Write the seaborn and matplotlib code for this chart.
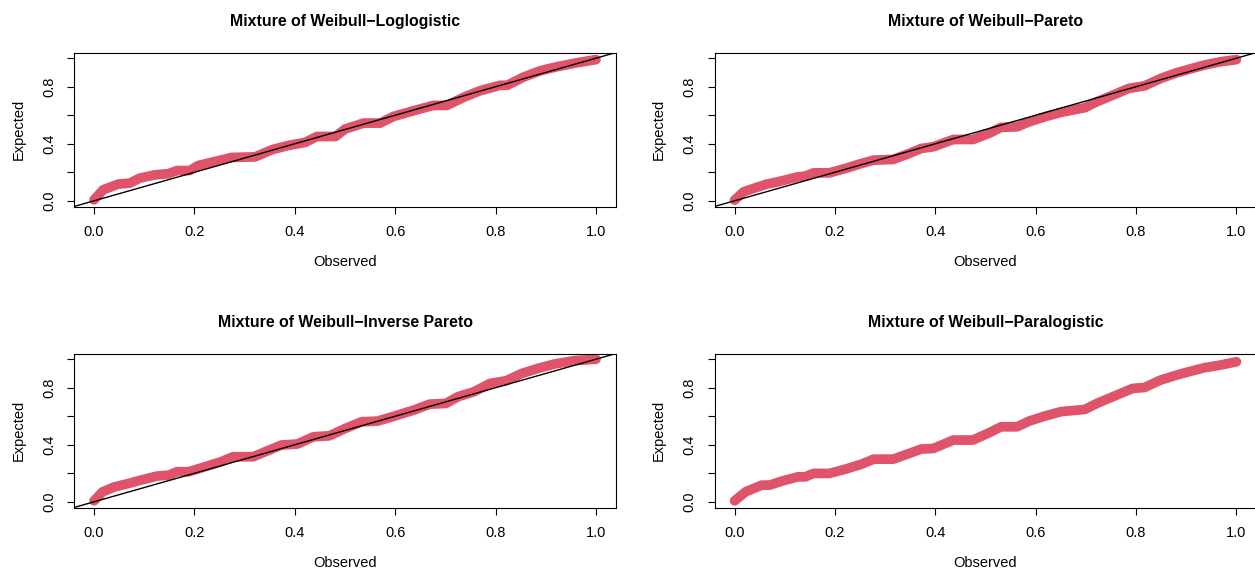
import numpy as np
import pandas as pd
import matplotlib
matplotlib.use("Agg")
import matplotlib.pyplot as plt
import seaborn as sns

# P-P plot vertices (observed CDF, fitted CDF) for each fitted mixture
titles = [
    "Mixture of Weibull\u2212Loglogistic",
    "Mixture of Weibull\u2212Pareto",
    "Mixture of Weibull\u2212Inverse Pareto",
    "Mixture of Weibull\u2212Paralogistic",
]

obs_loglogistic = [0.0, 0.018, 0.048, 0.071, 0.091, 0.121, 0.148, 0.165, 0.19, 0.208, 0.241, 0.274,
                   0.321, 0.354, 0.387, 0.421, 0.444, 0.481, 0.5, 0.537, 0.57, 0.597, 0.637, 0.676,
                   0.703, 0.736, 0.769, 0.809, 0.823, 0.856, 0.889, 0.922, 0.962, 1.0]
exp_loglogistic = [0.007, 0.077, 0.117, 0.124, 0.159, 0.182, 0.19, 0.212, 0.212, 0.248, 0.276, 0.304,
                   0.308, 0.358, 0.388, 0.41, 0.451, 0.451, 0.503, 0.545, 0.545, 0.592, 0.632, 0.669,
                   0.669, 0.725, 0.772, 0.81, 0.81, 0.868, 0.912, 0.94, 0.968, 0.99]

obs_pareto = [0.0, 0.018, 0.038, 0.062, 0.086, 0.126, 0.141, 0.157, 0.189, 0.221, 0.253, 0.277,
              0.316, 0.348, 0.372, 0.396, 0.436, 0.475, 0.507, 0.531, 0.563, 0.587, 0.618, 0.65,
              0.698, 0.722, 0.762, 0.785, 0.817, 0.849, 0.881, 0.905, 0.936, 0.968, 1.0]
exp_pareto = [0.005, 0.063, 0.087, 0.115, 0.133, 0.168, 0.173, 0.196, 0.196, 0.227, 0.262, 0.285,
              0.29, 0.332, 0.367, 0.379, 0.43, 0.43, 0.473, 0.515, 0.519, 0.554, 0.589, 0.62,
              0.653, 0.695, 0.753, 0.788, 0.806, 0.858, 0.898, 0.922, 0.952, 0.975, 0.99]

obs_inv_pareto = [0.0, 0.017, 0.041, 0.069, 0.093, 0.125, 0.149, 0.165, 0.189, 0.221, 0.253, 0.277,
                  0.317, 0.341, 0.373, 0.405, 0.437, 0.469, 0.501, 0.533, 0.565, 0.605, 0.637, 0.669,
                  0.701, 0.725, 0.757, 0.789, 0.821, 0.853, 0.885, 0.917, 0.957, 1.0]
exp_inv_pareto = [0.007, 0.07, 0.105, 0.129, 0.152, 0.18, 0.187, 0.211, 0.211, 0.246, 0.281, 0.316,
                  0.316, 0.351, 0.398, 0.405, 0.456, 0.463, 0.515, 0.561, 0.566, 0.608, 0.643, 0.685,
                  0.69, 0.737, 0.772, 0.83, 0.849, 0.901, 0.936, 0.966, 0.99, 1.0]

obs_paralogistic = [0.0, 0.022, 0.054, 0.07, 0.094, 0.126, 0.141, 0.157, 0.189, 0.221, 0.253, 0.277,
                    0.316, 0.348, 0.372, 0.396, 0.436, 0.475, 0.507, 0.531, 0.563, 0.587, 0.618, 0.65,
                    0.698, 0.722, 0.762, 0.793, 0.817, 0.849, 0.881, 0.905, 0.936, 0.968, 1.0]
exp_paralogistic = [0.007, 0.07, 0.117, 0.117, 0.145, 0.175, 0.175, 0.199, 0.199, 0.229, 0.264, 0.299,
                    0.299, 0.339, 0.37, 0.374, 0.433, 0.433, 0.484, 0.526, 0.526, 0.566, 0.601, 0.632,
                    0.648, 0.69, 0.749, 0.795, 0.802, 0.854, 0.889, 0.912, 0.94, 0.959, 0.982]

tick_values = [0.0, 0.2, 0.4, 0.6, 0.8, 1.0]
x_tick_labels = ["0.0", "0.2", "0.4", "0.6", "0.8", "1.0"]
y_tick_labels = ["0.0", "", "0.4", "", "0.8", ""]

panels = [
    (titles[0], obs_loglogistic, exp_loglogistic, True),
    (titles[1], obs_pareto, exp_pareto, True),
    (titles[2], obs_inv_pareto, exp_inv_pareto, True),
    (titles[3], obs_paralogistic, exp_paralogistic, False),
]

sns.set_style("ticks")
plt.rcParams["font.family"] = ["Liberation Sans", "DejaVu Sans"]
plt.rcParams["text.color"] = "black"
plt.rcParams["axes.labelcolor"] = "black"

W, H = 1255, 572
fig = plt.figure(figsize=(W / 100, H / 100), dpi=100)

# axes boxes in pixels: (left, top)
box_w, box_h = 542, 154
origins = [(74, 52.5), (714.5, 52.5), (74, 353.5), (714.5, 353.5)]

point_color = "#DF536B"

for (title, obs, exp, with_ref), (lx, ty) in zip(panels, origins):
    ax = fig.add_axes([lx / W, (H - ty - box_h) / H, box_w / W, box_h / H])
    df = pd.DataFrame({"Observed": obs, "Expected": exp})
    sns.lineplot(data=df, x="Observed", y="Expected", ax=ax, sort=False, estimator=None,
                 color=point_color, lw=7.0, solid_capstyle="round", solid_joinstyle="round",
                 zorder=2)
    if with_ref:
        ax.axline((0, 0), slope=1, color="black", lw=1.0, zorder=3)
    ax.set_xlim(-0.04, 1.04)
    ax.set_ylim(-0.04, 1.04)
    ax.set_xticks(tick_values)
    ax.set_xticklabels(x_tick_labels)
    ax.set_yticks(tick_values)
    ax.set_yticklabels(y_tick_labels, rotation=90, va="center")
    ax.tick_params(axis="both", direction="out", length=5, width=0.8, color="black",
                   labelsize=10.5, labelcolor="black", pad=8)
    for sp in ax.spines.values():
        sp.set_visible(True)
        sp.set_color("black")
        sp.set_linewidth(0.8)
    ax.set_xlabel("Observed", fontsize=10.5, labelpad=12)
    ax.set_ylabel("Expected", fontsize=10.5, labelpad=12)
    ax.set_title(title, fontsize=11.4, fontweight="bold", color="black", pad=19)

fig.savefig("out.png", dpi=100)
